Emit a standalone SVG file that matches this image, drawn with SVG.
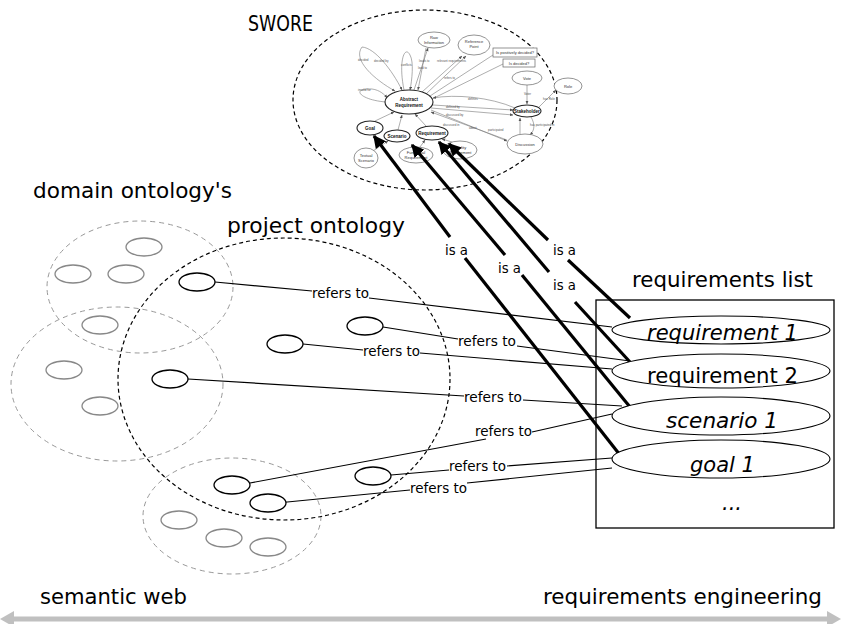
<svg xmlns="http://www.w3.org/2000/svg" width="841" height="624" viewBox="0 0 841 624">
<style>
.lbl{font-family:"DejaVu Sans","Liberation Sans",sans-serif;fill:#000}
.big{font-size:21px}
.small{font-size:14px}
.it{font-style:italic}
.dom{fill:none;stroke:#999;stroke-width:1;stroke-dasharray:5,4}
.domn{fill:none;stroke:#888;stroke-width:1.3}
.prj{fill:none;stroke:#000;stroke-width:1.2;stroke-dasharray:4,3}
.pn{fill:#fff;stroke:#000;stroke-width:1.3}
.ref{fill:none;stroke:#000;stroke-width:1.2}
.isa{fill:none;stroke:#000;stroke-width:3.2}
.rq{fill:#fff;stroke:#000;stroke-width:1.1}
.sw{fill:#fff;stroke:#666;stroke-width:0.7}
.swb{fill:#fff;stroke:#222;stroke-width:1.1}
.swe{fill:none;stroke:#777;stroke-width:0.6}
.swt{font-family:"Liberation Sans",sans-serif;font-size:4px;fill:#333;text-anchor:middle}
.swtb{font-family:"Liberation Sans",sans-serif;font-size:4.5px;font-weight:bold;fill:#111;text-anchor:middle}
.swl{font-family:"Liberation Sans",sans-serif;font-size:3px;fill:#555}
</style>
<defs>
<marker id="ah" viewBox="0 0 10 10" refX="9" refY="5" markerWidth="4" markerHeight="4" orient="auto-start-reverse" markerUnits="strokeWidth">
<path d="M0,0 L10,5 L0,10 z" fill="#000"/>
</marker>
<marker id="sah" viewBox="0 0 10 10" refX="9" refY="5" markerWidth="6" markerHeight="6" orient="auto">
<path d="M0,1 L10,5 L0,9 z" fill="#555"/>
</marker>
</defs>

<!-- SWORE -->
<g id="swore">
<text class="lbl" x="248" y="31" font-size="21" textLength="65" lengthAdjust="spacingAndGlyphs">SWORE</text>
<ellipse cx="425" cy="100" rx="132" ry="90" class="prj"/>
<g id="swore-graph">
<!-- edges -->
<path class="swe" marker-end="url(#sah)" d="M362,47 C352,60 375,80 395,91"/>
<path class="swe" marker-end="url(#sah)" d="M362,47 C375,48 392,70 402,90"/>
<path class="swe" marker-end="url(#sah)" d="M404,90 C398,60 405,45 410,55 C414,62 412,80 410,90"/>
<path class="swe" marker-end="url(#sah)" d="M414,90 L428,48"/>
<path class="swe" marker-end="url(#sah)" d="M426,48 L418,90"/>
<path class="swe" marker-end="url(#sah)" d="M422,92 L462,56"/>
<path class="swe" marker-end="url(#sah)" d="M426,94 L466,56"/>
<path class="swe" d="M430,96 L493,55"/>
<path class="swe" d="M432,99 L503,64"/>
<path class="swe" marker-end="url(#sah)" d="M386,102 C360,100 350,88 372,89 C380,90 385,95 387,98"/>
<path class="swe" marker-end="url(#sah)" d="M515,108 C490,97 455,94 433,98"/>
<path class="swe" marker-end="url(#sah)" d="M433,105 L513,110"/>
<path class="swe" marker-end="url(#sah)" d="M431,108 L513,115"/>
<path class="swe" marker-end="url(#sah)" d="M431,110 L507,141"/>
<path class="swe" marker-end="url(#sah)" d="M507,140 L431,112"/>
<path class="swe" marker-end="url(#sah)" d="M520,134 L520,118"/>
<path class="swe" marker-end="url(#sah)" d="M531,117 C535,124 535,130 530,135"/>
<path class="swe" marker-end="url(#sah)" d="M527,85 L527,104"/>
<path class="swe" marker-end="url(#sah)" d="M539,107 L556,90"/>
<path class="swe" marker-end="url(#sah)" d="M375,121 L394,112"/>
<path class="swe" marker-end="url(#sah)" d="M398,130 L402,115"/>
<path class="swe" marker-end="url(#sah)" d="M426,126 L415,114"/>
<path class="swe" marker-end="url(#sah)" d="M373,151 L388,141"/>
<path class="swe" marker-end="url(#sah)" d="M420,147 L425,140"/>
<path class="swe" marker-end="url(#sah)" d="M452,142 L442,139"/>
<!-- edge labels -->
<text class="swl" x="358" y="61">decided</text>
<text class="swl" x="374" y="62">decided by</text>
<text class="swl" x="401" y="66">conflicts</text>
<text class="swl" x="419" y="62">leads to</text>
<text class="swl" x="418" y="69">lead to</text>
<text class="swl" x="437" y="62">relevant requirements</text>
<text class="swl" x="444" y="79">refers to</text>
<text class="swl" x="358" y="91">invalid for</text>
<text class="swl" x="468" y="100">defines</text>
<text class="swl" x="446" y="108">defined by</text>
<text class="swl" x="446" y="116">discussed by</text>
<text class="swl" x="443" y="126">discussed in</text>
<text class="swl" x="469" y="129">about</text>
<text class="swl" x="488" y="131">participated</text>
<text class="swl" x="530" y="126">has participated in</text>
<text class="swl" x="524" y="95">Voter</text>
<text class="swl" x="543" y="100">has Role</text>
<!-- nodes -->
<ellipse class="sw" cx="434" cy="40" rx="16" ry="8"/>
<text class="swt" x="434" y="39">Raw</text><text class="swt" x="434" y="44">Information</text>
<ellipse class="sw" cx="474" cy="45" rx="16" ry="10"/>
<text class="swt" x="474" y="43">Reference</text><text class="swt" x="474" y="48">Point</text>
<rect class="sw" x="493" y="48" width="44" height="9"/>
<text class="swt" x="515" y="54">Is positively decided?</text>
<rect class="sw" x="503" y="59" width="32" height="8"/>
<text class="swt" x="519" y="65">Is decided?</text>
<ellipse class="sw" cx="527" cy="78" rx="15" ry="7"/>
<text class="swt" x="527" y="80">Vote</text>
<ellipse class="sw" cx="568" cy="86" rx="14" ry="8"/>
<text class="swt" x="568" y="88">Role</text>
<ellipse class="swb" cx="409" cy="102" rx="24" ry="12" stroke-width="1.3"/>
<text class="swtb" x="409" y="101">Abstract</text><text class="swtb" x="409" y="107">Requirement</text>
<ellipse class="swb" cx="527" cy="111" rx="14" ry="6"/>
<text class="swtb" x="527" y="113" font-size="4">Stakeholder</text>
<ellipse class="sw" cx="525" cy="144" rx="18" ry="10"/>
<text class="swt" x="525" y="146">Discussion</text>
<ellipse class="swb" cx="370" cy="128" rx="13" ry="7"/>
<text class="swtb" x="370" y="130" font-size="4">Goal</text>
<ellipse class="swb" cx="397" cy="136" rx="13" ry="6"/>
<text class="swtb" x="397" y="138" font-size="4">Scenario</text>
<ellipse class="swb" cx="432" cy="133" rx="16" ry="7"/>
<text class="swtb" x="432" y="135" font-size="4">Requirement</text>
<ellipse class="sw" cx="366" cy="158" rx="12" ry="10"/>
<text class="swt" x="366" y="157">Textual</text><text class="swt" x="366" y="162">Scenario</text>
<ellipse class="sw" cx="416" cy="155" rx="17" ry="8"/>
<text class="swt" x="416" y="154">Functional</text><text class="swt" x="416" y="159">Requirement</text>
<ellipse class="sw" cx="460" cy="150" rx="17" ry="9"/>
<text class="swt" x="460" y="149">Quality</text><text class="swt" x="460" y="154">Requirement</text>
</g>
</g>

<!-- domain ontologies -->
<g id="domain-ontologies">
<text class="lbl big" x="33" y="198" textLength="199" lengthAdjust="spacingAndGlyphs">domain ontology's</text>
<ellipse class="dom" cx="140" cy="287" rx="93" ry="66"/>
<ellipse class="dom" cx="117" cy="384" rx="106" ry="77"/>
<ellipse class="dom" cx="232" cy="516" rx="89" ry="58"/>
<ellipse class="domn" cx="144" cy="247" rx="18" ry="9"/>
<ellipse class="domn" cx="73" cy="274" rx="18" ry="9"/>
<ellipse class="domn" cx="126" cy="274" rx="18" ry="9"/>
<ellipse class="domn" cx="100" cy="325" rx="18" ry="9"/>
<ellipse class="domn" cx="64" cy="370" rx="18" ry="9"/>
<ellipse class="domn" cx="100" cy="406" rx="18" ry="9"/>
<ellipse class="domn" cx="179" cy="520" rx="18" ry="9"/>
<ellipse class="domn" cx="224" cy="538" rx="18" ry="9"/>
<ellipse class="domn" cx="268" cy="547" rx="18" ry="9"/>
</g>

<!-- project ontology -->
<g id="project-ontology">
<text class="lbl big" x="227" y="233" textLength="178" lengthAdjust="spacingAndGlyphs">project ontology</text>
<ellipse class="prj" cx="284" cy="379" rx="166" ry="141"/>
</g>

<!-- connectors -->
<g id="connectors">
<polyline class="ref" points="215,282 312,291"/>
<polyline class="ref" points="369,298 612,327"/>
<polyline class="ref" points="383,327 458,339"/>
<polyline class="ref" points="517,346 630,361"/>
<polyline class="ref" points="303,344 363,350"/>
<polyline class="ref" points="420,353 612,369"/>
<polyline class="ref" points="188,379 464,396"/>
<polyline class="ref" points="523,400 622,406"/>
<polyline class="ref" points="250,483 486,439"/>
<polyline class="ref" points="532,432 612,414"/>
<polyline class="ref" points="391,475 449,470"/>
<polyline class="ref" points="507,466 612,458"/>
<polyline class="ref" points="277,503 410,490"/>
<polyline class="ref" points="467,483 612,468"/>

<line class="isa" x1="450" y1="237" x2="374" y2="136" marker-end="url(#ah)"/>
<line class="isa" x1="465" y1="258" x2="620" y2="455"/>
<line class="isa" x1="505" y1="255" x2="412" y2="145" marker-end="url(#ah)"/>
<line class="isa" x1="522" y1="275" x2="630" y2="407"/>
<line class="isa" x1="549" y1="272" x2="439" y2="142" marker-end="url(#ah)"/>
<line class="isa" x1="575" y1="302" x2="630" y2="362"/>
<line class="isa" x1="548" y1="240" x2="449" y2="144" marker-end="url(#ah)"/>
<line class="isa" x1="568" y1="260" x2="630" y2="318"/>

<g class="lbl small">
<text x="312" y="298" textLength="57" lengthAdjust="spacingAndGlyphs">refers to</text>
<text x="458" y="346" textLength="58" lengthAdjust="spacingAndGlyphs">refers to</text>
<text x="363" y="356" textLength="57" lengthAdjust="spacingAndGlyphs">refers to</text>
<text x="464" y="402" textLength="58" lengthAdjust="spacingAndGlyphs">refers to</text>
<text x="475" y="436" textLength="57" lengthAdjust="spacingAndGlyphs">refers to</text>
<text x="449" y="471" textLength="57" lengthAdjust="spacingAndGlyphs">refers to</text>
<text x="410" y="493" textLength="57" lengthAdjust="spacingAndGlyphs">refers to</text>
<text x="445" y="255" textLength="23" lengthAdjust="spacingAndGlyphs">is a</text>
<text x="498" y="273" textLength="23" lengthAdjust="spacingAndGlyphs">is a</text>
<text x="553" y="255" textLength="23" lengthAdjust="spacingAndGlyphs">is a</text>
<text x="553" y="290" textLength="23" lengthAdjust="spacingAndGlyphs">is a</text>
</g>
</g>

<!-- project ontology nodes -->
<g id="project-nodes">
<ellipse class="pn" cx="197" cy="282" rx="18" ry="9"/>
<ellipse class="pn" cx="365" cy="326" rx="18" ry="9"/>
<ellipse class="pn" cx="285" cy="344" rx="18" ry="9"/>
<ellipse class="pn" cx="170" cy="379" rx="18" ry="9"/>
<ellipse class="pn" cx="232" cy="485" rx="18" ry="9"/>
<ellipse class="pn" cx="268" cy="503" rx="18" ry="9" fill="none"/>
<ellipse class="pn" cx="373" cy="476" rx="18" ry="9"/>
</g>

<!-- requirements list -->
<g id="requirements-list">
<text class="lbl big" x="632" y="287" textLength="181" lengthAdjust="spacingAndGlyphs">requirements list</text>
<rect x="596" y="300" width="238" height="228" fill="none" stroke="#000" stroke-width="1.3"/>
<g id="req1"><ellipse class="rq" cx="721" cy="330" rx="109" ry="14"/>
<text class="lbl big it" x="647" y="340" textLength="151" lengthAdjust="spacingAndGlyphs">requirement 1</text></g>
<g id="req2"><ellipse class="rq" cx="721" cy="371" rx="109" ry="17" stroke-width="1.8"/>
<text class="lbl big" x="647" y="383" textLength="151" lengthAdjust="spacingAndGlyphs">requirement 2</text></g>
<g id="scen1"><ellipse class="rq" cx="721" cy="416" rx="109" ry="19"/>
<text class="lbl big it" x="666" y="428" textLength="112" lengthAdjust="spacingAndGlyphs">scenario 1</text></g>
<g id="goal1"><ellipse class="rq" cx="721" cy="459" rx="109" ry="19"/>
<text class="lbl big it" x="690" y="472" textLength="65" lengthAdjust="spacingAndGlyphs">goal 1</text></g>
<text class="lbl big it" x="722" y="510">...</text>
</g>

<!-- axis -->
<g id="axis">
<text class="lbl big" x="40" y="604" textLength="147" lengthAdjust="spacingAndGlyphs">semantic web</text>
<text class="lbl big" x="543" y="604" textLength="279" lengthAdjust="spacingAndGlyphs">requirements engineering</text>
<line x1="12" y1="619" x2="829" y2="619" stroke="#c0c0c0" stroke-width="5"/>
<polygon points="0,619 14,611 14,627" fill="#c0c0c0"/>
<polygon points="841,619 827,611 827,627" fill="#c0c0c0"/>
</g>
</svg>
